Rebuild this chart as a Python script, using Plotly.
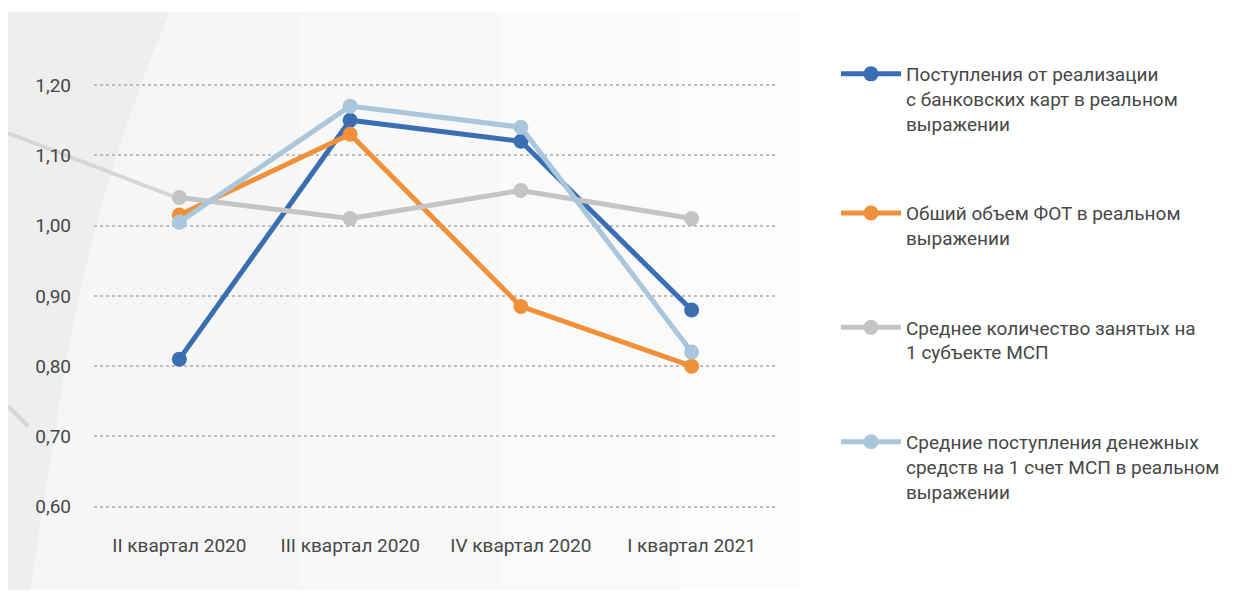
import plotly.graph_objects as go

categories = ["II квартал 2020", "III квартал 2020", "IV квартал 2020", "I квартал 2021"]

series_names = [
    "Поступления от реализации<br>с банковских карт в реальном<br>выражении",
    "Обший объем ФОТ в реальном<br>выражении",
    "Среднее количество занятых на<br>1 субъекте МСП",
    "Средние поступления денежных<br>средств на 1 счет МСП в реальном<br>выражении",
]
card_revenue = [0.81, 1.15, 1.12, 0.88]
payroll = [1.015, 1.13, 0.885, 0.80]
employees = [1.04, 1.01, 1.05, 1.01]
account_inflows = [1.005, 1.17, 1.14, 0.82]

y_ticks = [0.60, 0.70, 0.80, 0.90, 1.00, 1.10, 1.20]

colors = ["#3b6db3", "#f0913a", "#c4c4c4", "#a9c6db"]
values = [card_revenue, payroll, employees, account_inflows]

FONT = "Roboto, sans-serif"
TXT = "#474747"

W, H = 1218, 587          # page body has an 8px margin
OFF = 8
# plot area in figure pixels
L, R, T, B = 86, 769, 63, 524

def px(xs):   # screen x -> paper
    return (xs - OFF - L) / (R - L)
def py(ys):   # screen y -> paper
    return (B - (ys - OFF)) / (B - T)

fig = go.Figure()
for i, (name, vals, col) in enumerate(zip(series_names, values, colors)):
    fig.add_trace(go.Scatter(
        x=categories, y=vals, name=name, mode="lines+markers",
        line=dict(color=col, width=5),
        marker=dict(color=col, size=15),
        legendgroup=f"g{i}",
    ))

# soft background: light grey fading to white towards the right
bg_bands = [(8, 300, "#f6f6f6"), (300, 500, "#f8f8f8"), (500, 680, "#fafafa"), (680, 800, "#fcfcfc")]
shapes = []
for x0, x1, c in bg_bands:
    shapes.append(dict(type="rect", xref="paper", yref="paper", layer="below",
                       x0=px(x0), x1=px(x1), y0=py(590), y1=py(12),
                       fillcolor=c, line=dict(width=0)))
shapes += [
    dict(type="path", xref="paper", yref="paper", layer="below",
         path=(f"M{px(8)},{py(12)} L{px(170)},{py(12)} "
               f"Q{px(90)},{py(200)} {px(60)},{py(400)} "
               f"L{px(30)},{py(590)} L{px(8)},{py(590)} Z"),
         fillcolor="#eeeeee", line=dict(width=0)),
    dict(type="line", xref="paper", yref="paper", layer="below",
         x0=px(8), y0=py(133), x1=px(172), y1=py(196),
         line=dict(color="#d6d6d6", width=4)),
    dict(type="line", xref="paper", yref="paper", layer="below",
         x0=px(8), y0=py(406), x1=px(28), y1=py(426),
         line=dict(color="#d6d6d6", width=4)),
]

fig.update_layout(
    width=W, height=H,
    margin=dict(l=L, r=W - R, t=T, b=H - B, autoexpand=False),
    paper_bgcolor="#ffffff",
    plot_bgcolor="rgba(0,0,0,0)",
    separators=", ",
    font=dict(family=FONT, size=19, color=TXT),
    showlegend=True,
    legend=dict(
        x=px(836), y=py(55), xanchor="left", yanchor="top",
        font=dict(family=FONT, size=19, color=TXT),
        valign="top", tracegroupgap=62, itemwidth=60,
        bgcolor="rgba(0,0,0,0)", maxheight=570,
    ),
    shapes=shapes,
    xaxis=dict(
        type="category", range=[-0.5, 3.5],
        showgrid=False, zeroline=False, showline=False,
        tickfont=dict(family=FONT, size=19, color=TXT),
        tickangle=0, ticklabelstandoff=0,
    ),
    yaxis=dict(
        range=[0.564, 1.22],
        tickvals=y_ticks, tickformat=".2f",
        showgrid=True, gridcolor="#bdbdbd", griddash="dot", gridwidth=2,
        zeroline=False, showline=False,
        tickfont=dict(family=FONT, size=19, color=TXT),
        ticklabelstandoff=22,
    ),
)

fig.write_html("out.html")
